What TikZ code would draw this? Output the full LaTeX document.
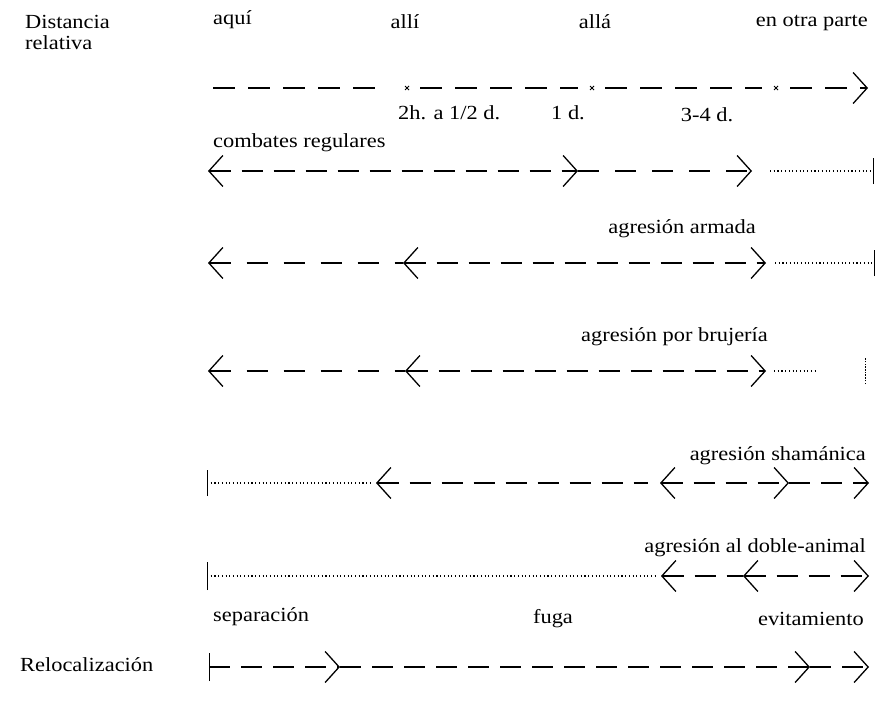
\documentclass[tikz,border=0pt]{standalone}
\usepackage{fontspec}
\setmainfont{Liberation Serif}[FakeStretch=1.12]
\usetikzlibrary{arrows.meta}
\begin{document}
\begin{tikzpicture}[x=1pt,y=-1pt,
  lbl/.style={inner sep=0pt,font=\fontsize{20}{24}\selectfont},
  dl/.style={line width=1.1pt,dash pattern=on 21pt off 11pt},
  dlw/.style={line width=1.1pt,dash pattern=on 21pt off 16pt},
  dtop/.style={line width=1.1pt,dash pattern=on 22pt off 13pt},
  dt/.style={line width=1.3pt,dash pattern=on 1.1pt off 2.6pt},
  chev/.tip={Straight Barb[length=14pt,width=31pt,line width=1.3pt]},
  barline/.style={line width=1pt},
  starmark/.style={line width=0.9pt}]
\useasboundingbox (0,0) rectangle (886,701);
% left labels
\node[lbl,anchor=west] (dist) at (25,22) {Distancia};
\node[lbl,anchor=west] (rel) at (25,43) {relativa};
\node[lbl,anchor=west] (reloc) at (20,665) {Relocalización};
% top labels
\node[lbl,anchor=west] (aqui) at (213,20) {aquí};
\node[lbl] (alli) at (405,22) {allí};
\node[lbl] (alla) at (595,22) {allá};
\node[lbl,anchor=east] (otra) at (868,23) {en otra parte};
\node[lbl,anchor=west] (h2) at (398,113) {2h. a 1/2 d.};
\node[lbl] (d1) at (568,113) {1 d.};
\node[lbl] (d34) at (707,115) {3-4 d.};
% top line
\coordinate (t0) at (213,88); \coordinate (t1) at (388,88);
\coordinate (s1) at (407,88);
\coordinate (t2) at (420,88); \coordinate (t3) at (578,88);
\coordinate (s2) at (592,88);
\coordinate (t4) at (605,88); \coordinate (t5) at (762,88);
\coordinate (s3) at (776,88);
\coordinate (t6) at (790,88); \coordinate (t7) at (868,88);
\draw[dtop] (t0) -- (t1);
\draw[dtop] (t2) -- (t3);
\draw[dtop] (t4) -- (t5);
\draw[dtop,-chev] (t6) -- (t7);
\foreach \s in {s1,s2,s3}{
  \draw[starmark] ([shift={(-2,-2)}]\s) -- ([shift={(2,2)}]\s);
  \draw[starmark] ([shift={(-2,2)}]\s) -- ([shift={(2,-2)}]\s);}
% row 1
\node[lbl,anchor=west] (comb) at (213,143) {combates regulares};
\coordinate (r1a) at (208,171); \coordinate (r1b) at (578,171);
\coordinate (r1c) at (752,171); \coordinate (r1d) at (770,171);
\coordinate (r1e) at (873,171);
\draw[dl,chev-chev] (r1a) -- (r1b);
\draw[dlw,-chev] (r1b) -- (r1c);
\draw[dt] (r1d) -- (r1e);
\draw[barline] ([yshift=-13]r1e) -- ([yshift=13]r1e);
% row 2
\node[lbl,anchor=east] (arm) at (756,229) {agresión armada};
\coordinate (r2a) at (208,263); \coordinate (r2b) at (403,263);
\coordinate (r2c) at (766,263); \coordinate (r2d) at (775,263);
\coordinate (r2e) at (874,263);
\draw[dlw,chev-] (r2a) -- (r2b);
\draw[dl,chev-chev] (r2b) -- (r2c);
\draw[dt] (r2d) -- (r2e);
\draw[barline] ([yshift=-13]r2e) -- ([yshift=13]r2e);
% row 3
\node[lbl,anchor=east] (bru) at (768,337) {agresión por brujería};
\coordinate (r3a) at (208,371); \coordinate (r3b) at (405,371);
\coordinate (r3c) at (766,371); \coordinate (r3d) at (774,371);
\coordinate (r3e) at (818,371); \coordinate (r3f) at (865,371);
\draw[dlw,chev-] (r3a) -- (r3b);
\draw[dl,chev-chev] (r3b) -- (r3c);
\draw[dt] (r3d) -- (r3e);
\draw[line width=0.9pt,dash pattern=on 1.5pt off 1.2pt] ([yshift=-13]r3f) -- ([yshift=13]r3f);
% row 4
\node[lbl,anchor=east] (sham) at (866,456) {agresión shamánica};
\coordinate (r4a) at (207,483); \coordinate (r4b) at (373,483);
\coordinate (r4c) at (376,483); \coordinate (r4d) at (648,483);
\coordinate (r4e) at (660,483); \coordinate (r4f) at (789,483);
\coordinate (r4g) at (869,483);
\draw[barline] ([yshift=-13]r4a) -- ([yshift=13]r4a);
\draw[dt] (r4a) -- (r4b);
\draw[dl,chev-] (r4c) -- (r4d);
\draw[dl,chev-chev] (r4e) -- (r4f);
\draw[dl,-chev] (r4f) -- (r4g);
% row 5
\node[lbl,anchor=east] (dob) at (866,548) {agresión al doble-animal};
\coordinate (r5a) at (207,576); \coordinate (r5b) at (658,576);
\coordinate (r5c) at (661,576); \coordinate (r5d) at (743,576);
\coordinate (r5e) at (869,576);
\draw[barline] ([yshift=-14]r5a) -- ([yshift=14]r5a);
\draw[dt] (r5a) -- (r5b);
\draw[dl,chev-] (r5c) -- (r5d);
\draw[dl,chev-chev] (r5d) -- (r5e);
% relocation
\node[lbl,anchor=west] (sep) at (213,617) {separación};
\node[lbl] (fug) at (553,619) {fuga};
\node[lbl,anchor=east] (evi) at (864,619) {evitamiento};
\coordinate (r6a) at (209,667); \coordinate (r6b) at (340,667);
\coordinate (r6c) at (810,667); \coordinate (r6d) at (869,667);
\draw[barline] ([yshift=-14]r6a) -- ([yshift=14]r6a);
\draw[dl,-chev] (r6a) -- (r6b);
\draw[dl,-chev] (r6b) -- (r6c);
\draw[dl,-chev] (r6c) -- (r6d);
\end{tikzpicture}
\end{document}
